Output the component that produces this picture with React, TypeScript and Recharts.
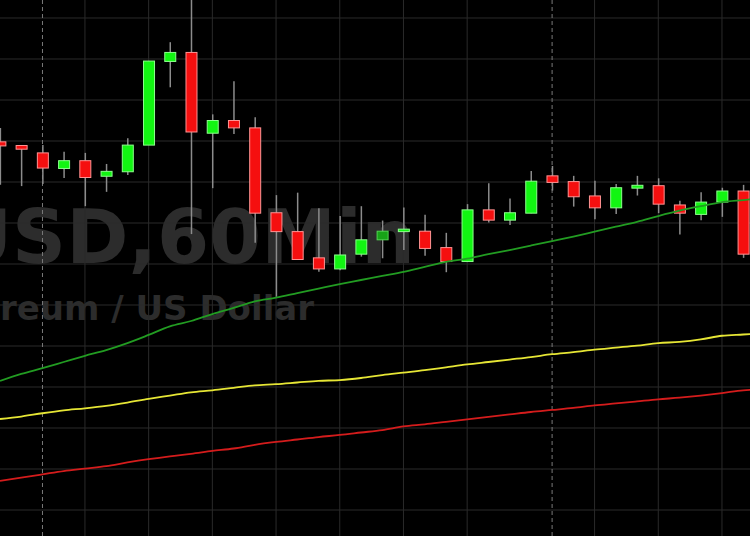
import React from 'react';
import { ComposedChart, Bar, Line, XAxis, YAxis, CartesianGrid } from 'recharts';

// ---- data (ETH/USD, 60 min candles) ----
const openPrices = [
  188.98, 188.89, 188.71, 188.33, 188.52, 188.14, 188.25, 188.9, 190.94, 191.16,
  189.19, 189.5, 189.32, 187.25, 186.79, 186.15, 185.88, 186.24, 186.59, 186.79,
  186.8, 186.4, 186.06, 187.32, 187.07, 187.24, 188.15, 188.01, 187.66, 187.37,
  187.85, 187.91, 187.44, 187.21, 187.51, 187.78,
];
const highPrices = [
  189.32, 188.9, 188.9, 188.74, 188.71, 188.44, 189.07, 190.95, 191.41, 192.51,
  189.65, 190.46, 189.58, 187.68, 187.74, 187.36, 187.17, 187.41, 187.06, 187.38,
  187.2, 186.76, 187.46, 187.97, 187.6, 188.27, 188.39, 188.15, 188.03, 187.95,
  188.15, 188.09, 187.54, 187.75, 187.86, 187.93,
];
const lowPrices = [
  187.93, 187.9, 187.95, 188.1, 187.41, 187.76, 188.17, 188.9, 190.31, 186.73,
  187.85, 189.17, 186.52, 185.2, 186.1, 185.81, 185.85, 186.18, 186.14, 186.34,
  186.2, 185.8, 186.05, 187.01, 186.95, 187.24, 187.79, 187.4, 187.09, 187.22,
  187.67, 187.24, 186.72, 187.07, 187.15, 186.15,
];
const closePrices = [
  188.88, 188.8, 188.34, 188.52, 188.11, 188.26, 188.9, 190.95, 191.16, 189.22,
  189.5, 189.32, 187.24, 186.79, 186.11, 185.88, 186.22, 186.59, 186.8, 186.85,
  186.38, 186.06, 187.32, 187.07, 187.25, 188.02, 187.99, 187.64, 187.37, 187.86,
  187.92, 187.46, 187.24, 187.51, 187.78, 186.24,
];
// moving averages (one more point than candles: the next, off-screen hour)
const maFast = [
  183.15, 183.32, 183.46, 183.61, 183.76, 183.9, 184.07, 184.27, 184.48, 184.61,
  184.78, 184.93, 185.09, 185.18, 185.29, 185.4, 185.51, 185.61, 185.71, 185.81,
  185.93, 186.05, 186.13, 186.24, 186.34, 186.45, 186.56, 186.67, 186.79, 186.91,
  187.03, 187.17, 187.3, 187.41, 187.51, 187.56, 187.61,
];
const maMid = [
  182.22, 182.28, 182.36, 182.43, 182.48, 182.54, 182.62, 182.71, 182.79, 182.87,
  182.92, 182.98, 183.04, 183.07, 183.11, 183.15, 183.17, 183.22, 183.29, 183.35,
  183.41, 183.48, 183.55, 183.61, 183.67, 183.73, 183.8, 183.85, 183.91, 183.96,
  184.01, 184.07, 184.1, 184.16, 184.25, 184.28, 184.31,
];
const maSlow = [
  180.71, 180.79, 180.87, 180.95, 181.01, 181.07, 181.16, 181.24, 181.31, 181.37,
  181.44, 181.5, 181.59, 181.66, 181.72, 181.78, 181.83, 181.89, 181.95, 182.04,
  182.09, 182.15, 182.21, 182.27, 182.33, 182.39, 182.44, 182.49, 182.55, 182.6,
  182.65, 182.7, 182.74, 182.79, 182.85, 182.92, 182.94,
];
const priceGridValues = [180, 181, 182, 183, 184, 185, 186, 187, 188, 189, 190, 191, 192];
const hourGridIndices = [4, 7, 10, 13, 16, 19, 22, 28, 31, 34];
const sessionBreakIndices = [2, 26];
const symbolLabel = 'ETHUSD,60Min';
const nameLabel = 'Ethereum / US Dollar';

const data = maFast.map((_, i) => ({
  i,
  o: i < openPrices.length ? openPrices[i] : null,
  h: i < highPrices.length ? highPrices[i] : null,
  l: i < lowPrices.length ? lowPrices[i] : null,
  c: i < closePrices.length ? closePrices[i] : null,
  ma1: maFast[i],
  ma2: maMid[i],
  ma3: maSlow[i],
}));

const W = 750;
const H = 536;
const Y_DOMAIN: [number, number] = [179.366, 192.439];
const X_DOMAIN: [number, number] = [0, 35.32];
const DIM_CANDLE = 18;

const Candle = (props: any) => {
  const { x, y, width, height, payload } = props;
  if (!payload || payload.o == null || height == null || !isFinite(height)) return null;
  const { o, h, l, c } = payload;
  const cx = x + width / 2;
  const ppu = h - l > 0 ? height / (h - l) : 0;
  const yOf = (v: number) => y + (h - v) * ppu;
  const up = c >= o;
  const top = yOf(Math.max(o, c));
  const bot = yOf(Math.min(o, c));
  const dim = payload.i === DIM_CANDLE;
  const fill = up ? (dim ? '#17a317' : '#12f512') : '#f50f0f';
  const stroke = up ? (dim ? '#52d552' : '#8dff8d') : '#ff9494';
  const bh = Math.max(bot - top, 2);
  return (
    <g>
      <line x1={cx} x2={cx} y1={y} y2={y + height} stroke="#8c8c8c" strokeWidth={1.5} />
      <rect x={cx - 5.5} y={top} width={11} height={bh} fill={fill} stroke={stroke} strokeWidth={1} />
    </g>
  );
};

export default function App() {
  return (
    <div style={{ position: 'absolute', left: 0, top: 0, width: W, height: H, background: '#000', overflow: 'hidden' }}>
      <svg width={W} height={H} style={{ position: 'absolute', left: 0, top: 0 }}>
        <text
          x={415}
          y={263}
          textAnchor="end"
          fontFamily="'DejaVu Sans', sans-serif"
          fontWeight="bold"
          fontSize={75}
          fill="#2c2c2c"
        >
          {symbolLabel}
        </text>
        <text
          x={314}
          y={320}
          textAnchor="end"
          fontFamily="'DejaVu Sans', sans-serif"
          fontWeight="bold"
          fontSize={34}
          fill="#2c2c2c"
        >
          {nameLabel}
        </text>
      </svg>
      <div style={{ position: 'absolute', left: 0, top: 0 }}>
        <ComposedChart width={W} height={H} data={data} margin={{ top: 0, right: 0, bottom: 0, left: 0 }}>
          <XAxis dataKey="i" type="number" domain={X_DOMAIN} allowDataOverflow hide />
          <YAxis type="number" domain={Y_DOMAIN} allowDataOverflow hide />
          <CartesianGrid
            stroke="#2a2a2a"
            strokeWidth={1}
            horizontalValues={priceGridValues}
            verticalValues={hourGridIndices}
          />
          <CartesianGrid
            horizontal={false}
            stroke="#7a7a7a"
            strokeWidth={1}
            strokeDasharray="4 3"
            verticalValues={sessionBreakIndices}
          />
          <Bar
            dataKey={(d: any) => (d.o == null ? null : [d.l, d.h])}
            barSize={12}
            shape={Candle}
            isAnimationActive={false}
          />
          <Line type="monotone" dataKey="ma3" stroke="#d41c1c" strokeWidth={1.8} dot={false} activeDot={false} isAnimationActive={false} />
          <Line type="monotone" dataKey="ma2" stroke="#e6e635" strokeWidth={1.8} dot={false} activeDot={false} isAnimationActive={false} />
          <Line type="monotone" dataKey="ma1" stroke="#229c22" strokeWidth={1.8} dot={false} activeDot={false} isAnimationActive={false} />
        </ComposedChart>
      </div>
    </div>
  );
}
